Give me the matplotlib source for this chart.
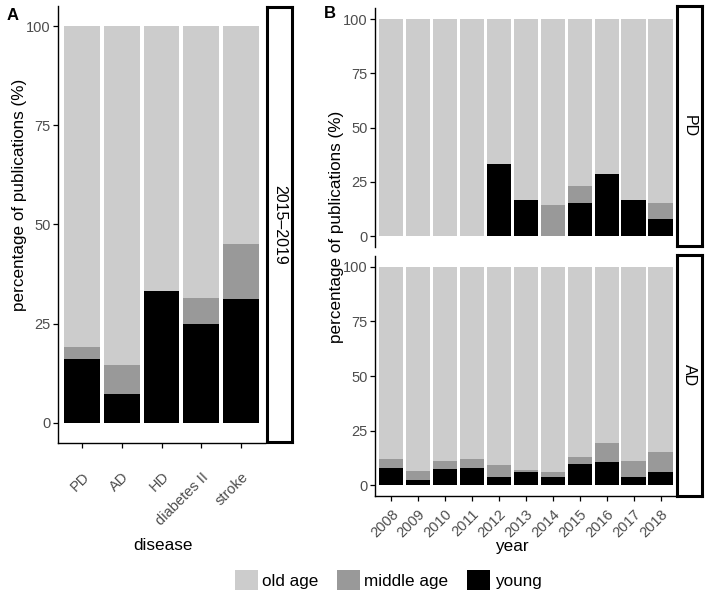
import numpy as np
import matplotlib
matplotlib.use('Agg')
import matplotlib.pyplot as plt
from matplotlib.patches import Patch

plt.rcParams['font.family'] = ['Liberation Sans', 'DejaVu Sans']

# panel A: 2015-2019 by disease
diseases = ['PD', 'AD', 'HD', 'diabetes II', 'stroke']
a_young = [16.1, 7.2, 33.3, 25.0, 31.3]
a_middle = [3.1, 7.4, 0.0, 6.5, 13.7]
a_old = [80.8, 85.4, 66.7, 68.5, 55.0]

# panel B: by year
years = ['2008', '2009', '2010', '2011', '2012', '2013', '2014', '2015', '2016', '2017', '2018']
pd_young = [0, 0, 0, 0, 33.3, 16.7, 0, 15.4, 28.6, 16.7, 7.7]
pd_middle = [0, 0, 0, 0, 0, 0, 14.3, 7.7, 0, 0, 7.7]
pd_old = [100, 100, 100, 100, 66.7, 83.3, 85.7, 76.9, 71.4, 83.3, 84.6]
ad_young = [8.1, 2.3, 7.3, 8.1, 3.8, 6.2, 4.0, 9.6, 10.5, 4.0, 6.1]
ad_middle = [4.1, 4.4, 3.7, 3.9, 5.3, 1.0, 1.9, 3.6, 9.1, 7.3, 9.3]
ad_old = [87.8, 93.3, 89.0, 88.0, 90.9, 92.8, 94.1, 86.8, 80.4, 88.7, 84.6]

groups = ['old age', 'middle age', 'young']
colors = {'old age': '#cccccc', 'middle age': '#999999', 'young': '#000000'}

W, H = 709, 597
fig = plt.figure(figsize=(W / 100, H / 100), dpi=100)


def px_axes(x0, y0, x1, y1):
    # pixel box (top-left origin) -> figure axes
    return fig.add_axes([x0 / W, 1 - y1 / H, (x1 - x0) / W, (y1 - y0) / H])


def stacked(ax, labels, young, middle, old, show_x=True, xpad=2):
    x = np.arange(len(labels))
    young = np.array(young, float)
    middle = np.array(middle, float)
    old = np.array(old, float)
    ax.bar(x, young, 0.9, color=colors['young'])
    ax.bar(x, middle, 0.9, bottom=young, color=colors['middle age'])
    ax.bar(x, old, 0.9, bottom=young + middle, color=colors['old age'])
    ax.set_xlim(-0.6, len(labels) - 0.4)
    ax.set_ylim(-5, 105)
    ax.set_yticks([0, 25, 50, 75, 100])
    for s in ['top', 'right']:
        ax.spines[s].set_visible(False)
    ax.spines['left'].set_linewidth(1.0)
    ax.spines['bottom'].set_linewidth(1.0)
    ax.tick_params(axis='both', length=3.5, width=0.9, colors='black',
                   labelcolor='#4d4d4d', labelsize=10.5, pad=2)
    ax.set_xticks(x)
    if show_x:
        ax.set_xticklabels(labels, rotation=45, ha='right', rotation_mode='anchor')
        ax.tick_params(axis='x', pad=xpad)
    else:
        ax.spines['bottom'].set_visible(False)
        ax.tick_params(axis='x', length=0, labelbottom=False)


def strip(x0, y0, x1, y1, text):
    s = px_axes(x0, y0, x1, y1)
    s.set_xticks([])
    s.set_yticks([])
    for sp in s.spines.values():
        sp.set_linewidth(2.2)
    s.text(0.5, 0.5, text, rotation=-90, ha='center', va='center',
           fontsize=11.5, transform=s.transAxes)


# panel A
axA = px_axes(58, 6.4, 265, 442.6)
stacked(axA, diseases, a_young, a_middle, a_old, xpad=16)
strip(267, 7, 292, 442, '2015\u20132019')
fig.text(19.5 / W, 1 - 195 / H, 'percentage of publications (%)', rotation=90,
         ha='center', va='center', fontsize=12.3)
fig.text(163 / W, 1 - 545 / H, 'disease', ha='center', va='center', fontsize=12.3)
fig.text(7 / W, 1 - 15 / H, 'A', ha='left', va='center', fontsize=12, fontweight='bold')

# panel B
axPD = px_axes(375, 8.2, 676.7, 246.9)
stacked(axPD, years, pd_young, pd_middle, pd_old, show_x=False)
strip(677, 6, 702, 246, 'PD')
axAD = px_axes(375, 255.8, 676.7, 496.3)
stacked(axAD, years, ad_young, ad_middle, ad_old, xpad=4)
strip(677, 255, 702, 496, 'AD')
fig.text(336 / W, 1 - 227 / H, 'percentage of publications (%)', rotation=90,
         ha='center', va='center', fontsize=12.3)
fig.text(512 / W, 1 - 547 / H, 'year', ha='center', va='center', fontsize=12.3)
fig.text(324 / W, 1 - 14 / H, 'B', ha='left', va='center', fontsize=12, fontweight='bold')

# legend
handles = [Patch(facecolor=colors[g], edgecolor='none', label=g) for g in groups]
fig.legend(handles=handles, loc='center', bbox_to_anchor=(388 / W, 1 - 580 / H),
           ncol=3, frameon=False, fontsize=12.3, handlelength=1.35, handleheight=1.35,
           handletextpad=0.25, columnspacing=1.1, borderaxespad=0)

fig.savefig('out.png', dpi=100)
